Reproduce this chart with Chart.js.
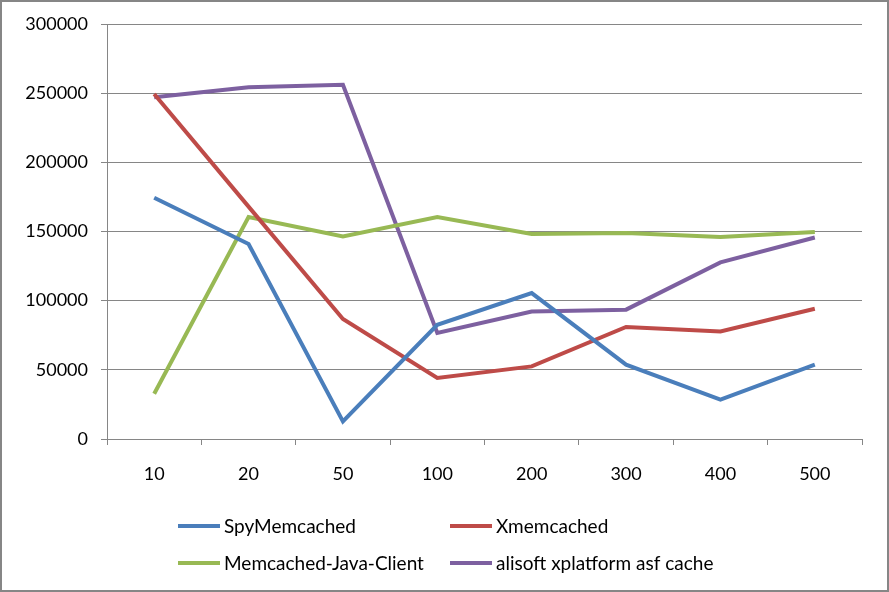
<!DOCTYPE html>
<html><head><meta charset="utf-8">
<script src="https://cdn.jsdelivr.net/npm/chart.js@4/dist/chart.umd.min.js"></script>
<style>html,body{margin:0;padding:0;background:#fff}#wrap{width:889px;height:592px;position:relative}</style>
</head><body><div id="wrap"><canvas id="c" width="889" height="592"></canvas></div>
<script>
const categories = ["10","20","50","100","200","300","400","500"];
const spyMemcached = [174400,141000,12700,82600,105500,53700,28400,53700];
const xmemcached = [249400,168000,86700,44100,52500,81000,77800,94200];
const memcachedJavaClient = [32700,160500,146500,160500,148200,148900,146000,149600];
const alisoftCache = [247000,254200,256100,76600,92200,93500,127700,145700];
const seriesNames = ["SpyMemcached","Xmemcached","Memcached-Java-Client","alisoft xplatform asf cache"];
const yTicks = [0,50000,100000,150000,200000,250000,300000];

const colors = ["#4A7EBB","#BE4B48","#98B954","#7D60A0"];
const FONT = "Lato, 'Liberation Sans', sans-serif";

const bgPlugin = {
  id:'bg',
  beforeDraw(chart){
    const ctx = chart.ctx;
    ctx.save();
    ctx.fillStyle = '#fff';
    ctx.fillRect(0,0,chart.width,chart.height);
    ctx.restore();
  },
  afterDraw(chart){
    const ctx = chart.ctx;
    ctx.save();
    ctx.strokeStyle = '#868686';
    ctx.lineWidth = 2;
    ctx.strokeRect(1,1,chart.width-2,chart.height-2);
    // legend
    const pos = [[178,526],[450,526],[178,563],[450,563]];
    ctx.font = "19px " + FONT;
    ctx.textBaseline = 'middle';
    ctx.fillStyle = '#000';
    chart.data.datasets.forEach((ds,i)=>{
      const [x,y] = pos[i];
      ctx.strokeStyle = ds.borderColor;
      ctx.lineWidth = 4;
      ctx.beginPath();
      ctx.moveTo(x,y);
      ctx.lineTo(x+42,y);
      ctx.stroke();
      ctx.fillText(ds.label, x+46, y+1);
    });
    ctx.restore();
  }
};

const allData = [spyMemcached,xmemcached,memcachedJavaClient,alisoftCache];

new Chart(document.getElementById('c'),{
  type:'line',
  data:{
    labels:categories,
    datasets: allData.map((d,i)=>({
      label:seriesNames[i],
      data:d,
      borderColor:colors[i],
      backgroundColor:colors[i],
      borderWidth:4,
      pointRadius:0,
      tension:0,
      fill:false
    }))
  },
  options:{
    responsive:false,
    animation:false,
    layout:{padding:{top:24,right:27,left:0,bottom:0}},
    plugins:{legend:{display:false},tooltip:{enabled:false}},
    scales:{
      x:{
        offset:true,
        grid:{offset:true,drawOnChartArea:false,drawTicks:true,tickLength:6,color:'#868686',lineWidth:1},
        border:{color:'#868686',width:1},
        ticks:{font:{family:FONT,size:18},color:'#000',padding:18,maxRotation:0},
        afterFit(s){ s.height = 592-439; }
      },
      y:{
        min:0,max:300000,
        afterBuildTicks(s){ s.ticks = yTicks.map(v=>({value:v})); },
        grid:{drawOnChartArea:true,tickLength:6,color:'#868686',lineWidth:1},
        border:{color:'#868686',width:1},
        ticks:{font:{family:FONT,size:18},color:'#000',padding:13,callback:v=>String(v)},
        afterFit(s){ s.width = 107; }
      }
    }
  },
  plugins:[bgPlugin]
});
</script></body></html>
